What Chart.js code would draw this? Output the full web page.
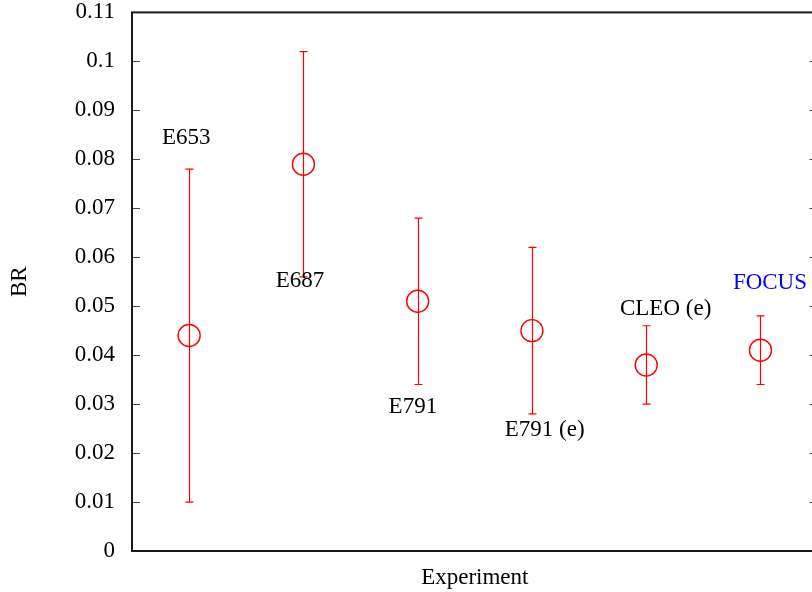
<!DOCTYPE html>
<html>
<head>
<meta charset="utf-8">
<script src="https://cdn.jsdelivr.net/npm/chart.js@4/dist/chart.umd.min.js"></script>
<style>
  html, body { margin: 0; padding: 0; background: #fff; overflow: hidden; }
  #wrap { width: 830px; height: 592px; }
</style>
</head>
<body>
<div id="wrap"><canvas id="c"></canvas></div>
<script>
// Branching ratio measurements per experiment
const experiments = ['E653', 'E687', 'E791', 'E791 (e)', 'CLEO (e)', 'FOCUS'];
const xPositions  = [1, 2, 3, 4, 5, 6];
const brValues    = [0.044, 0.079, 0.051, 0.045, 0.038, 0.041];
const brUpper     = [0.078, 0.102, 0.068, 0.062, 0.046, 0.048];
const brLower     = [0.010, 0.056, 0.034, 0.028, 0.030, 0.034];

// Where each experiment's name is written (data units, text baseline)
const labelX      = [0.974, 1.970, 2.958, 4.112, 5.170, 6.083];
const labelY      = [0.0831, 0.0539, 0.0282, 0.0235, 0.0482, 0.0535];
const labelColors = ['#000', '#000', '#000', '#000', '#000', '#0000ff'];

const yTickValues = [0, 0.01, 0.02, 0.03, 0.04, 0.05, 0.06, 0.07, 0.08, 0.09, 0.1, 0.11];
const yTickLabels = ['0', '0.01', '0.02', '0.03', '0.04', '0.05', '0.06', '0.07', '0.08', '0.09', '0.1', '0.11'];

const FONT = 'Liberation Serif';
const RED = '#ff0000';

const framePlugin = {
  id: 'frame',
  beforeDatasetsDraw(chart) {
    const { ctx, chartArea: a, scales: { y } } = chart;
    ctx.save();
    // inward tick marks on left and right edges
    ctx.strokeStyle = '#444';
    ctx.lineWidth = 1;
    yTickValues.forEach(v => {
      const py = Math.round(y.getPixelForValue(v)) + 0.5;
      ctx.beginPath();
      ctx.moveTo(a.left, py); ctx.lineTo(a.left + 8, py);
      ctx.moveTo(a.right, py); ctx.lineTo(a.right - 8, py);
      ctx.stroke();
    });
    // box around plotting area
    ctx.strokeStyle = '#1a1a1a';
    ctx.lineWidth = 2;
    ctx.strokeRect(a.left, a.top, a.right - a.left, a.bottom - a.top);
    ctx.restore();
  }
};

const errorBarPlugin = {
  id: 'errorBars',
  afterDatasetsDraw(chart) {
    const { ctx, scales: { x, y } } = chart;
    ctx.save();
    ctx.strokeStyle = RED;
    ctx.lineWidth = 1.2;
    xPositions.forEach((xv, i) => {
      const px = Math.round(x.getPixelForValue(xv)) + 0.5;
      const top = y.getPixelForValue(brUpper[i]);
      const bot = y.getPixelForValue(brLower[i]);
      ctx.beginPath();
      ctx.moveTo(px, top); ctx.lineTo(px, bot);
      ctx.moveTo(px - 4, top); ctx.lineTo(px + 4, top);
      ctx.moveTo(px - 4, bot); ctx.lineTo(px + 4, bot);
      ctx.stroke();
    });
    // experiment names
    ctx.font = '23px "' + FONT + '"';
    ctx.textAlign = 'center';
    ctx.textBaseline = 'alphabetic';
    experiments.forEach((name, i) => {
      ctx.fillStyle = labelColors[i];
      ctx.fillText(name, x.getPixelForValue(labelX[i]), y.getPixelForValue(labelY[i]));
    });
    ctx.restore();
  }
};

new Chart(document.getElementById('c'), {
  type: 'scatter',
  data: {
    datasets: [{
      data: xPositions.map((xv, i) => ({ x: xv, y: brValues[i] })),
      pointStyle: 'circle',
      pointRadius: 11,
      pointHoverRadius: 11,
      borderColor: RED,
      backgroundColor: 'rgba(0,0,0,0)',
      borderWidth: 1.4
    }]
  },
  options: {
    responsive: true,
    maintainAspectRatio: false,
    animation: false,
    events: [],
    layout: { padding: { top: 12, right: 11, bottom: 0, left: 0 } },
    plugins: { legend: { display: false }, tooltip: { enabled: false } },
    scales: {
      x: {
        type: 'linear',
        min: 0.5,
        max: 6.5,
        grid: { display: false, drawTicks: false },
        border: { display: false },
        ticks: { display: false },
        title: {
          display: true,
          text: 'Experiment',
          color: '#000',
          font: { family: FONT, size: 23 },
          padding: { top: 0, bottom: 0 }
        },
        afterFit(scale) { scale.height = 41; scale.paddingLeft = 0; scale.paddingRight = 0; }
      },
      y: {
        type: 'linear',
        min: 0,
        max: 0.11,
        grid: { display: false, drawTicks: false },
        border: { display: false },
        afterBuildTicks(scale) { scale.ticks = yTickValues.map(v => ({ value: v })); },
        ticks: {
          color: '#000',
          padding: 17,
          font: { family: FONT, size: 23, lineHeight: 1 },
          callback: (value, index) => yTickLabels[index]
        },
        title: {
          display: true,
          text: 'BR',
          color: '#000',
          font: { family: FONT, size: 23 },
          padding: { top: 6, bottom: 0 }
        },
        afterFit(scale) { scale.width = 132; scale.paddingTop = 0; scale.paddingBottom = 0; }
      }
    }
  },
  plugins: [framePlugin, errorBarPlugin]
});
</script>
</body>
</html>
